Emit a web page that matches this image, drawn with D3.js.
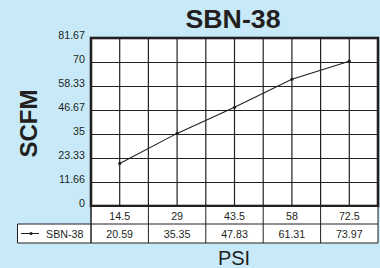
<!DOCTYPE html>
<html><head><meta charset="utf-8">
<script src="https://cdn.jsdelivr.net/npm/d3@7"></script>
<style>
html,body{margin:0;padding:0;background:#c8eaf8;}
svg{display:block;}
text{font-family:"Liberation Sans",Arial,Helvetica,sans-serif;fill:#231f20;}
</style></head>
<body>
<svg id="chart" width="380" height="268"></svg>
<script>
const categories = ["14.5", "29", "43.5", "58", "72.5"];
const seriesName = "SBN-38";
// values printed in the data table
const scfmLabels = [20.59, 35.35, 47.83, 61.31, 73.97];
// values where the points are actually drawn in the picture
const scfmPlotted = [20.7, 35.3, 48.0, 61.6, 70.4];
const yTickLabels = ["0", "11.66", "23.33", "35", "46.67", "58.33", "70", "81.67"];
const yTickValues = [0, 11.66, 23.33, 35, 46.67, 58.33, 70, 81.67];
const chartTitle = "SBN-38";
const yTitle = "SCFM";
const xTitle = "PSI";

(function () {
const svg = d3.select("#chart");
const W = 380, H = 268;
svg.append("rect").attr("width", W).attr("height", H).attr("fill", "#c8eaf8");

const pL = 91, pR = 378, pT = 38, pB = 206;
const x = d3.scaleBand().domain(categories).range([pL, pR]).padding(0);
const y = d3.scaleLinear().domain([0, 81.67]).range([pB, pT]);
const ink = "#231f20";

svg.append("rect").attr("x", pL).attr("y", pT).attr("width", pR - pL).attr("height", pB - pT).attr("fill", "#fff");

const gy = svg.append("g").attr("transform", `translate(${pL},0)`)
  .call(d3.axisLeft(y).tickValues(yTickValues).tickSize(-(pR - pL)).tickFormat(""));
gy.select(".domain").remove();
gy.selectAll("line").attr("stroke", ink).attr("stroke-width", 1.2);

const vlines = [];
categories.forEach(c => { vlines.push(x(c)); vlines.push(x(c) + x.bandwidth() / 2); });
svg.append("g").selectAll("line").data(vlines).join("line")
  .attr("x1", d => d).attr("x2", d => d).attr("y1", pT).attr("y2", pB)
  .attr("stroke", ink).attr("stroke-width", 1.2);

svg.append("g").selectAll("text").data(yTickValues).join("text")
  .attr("x", 85).attr("y", d => y(d) + 1)
  .attr("text-anchor", "end").attr("font-size", 10.7)
  .text((d, i) => yTickLabels[i]);

const pts = categories.map((c, i) => [x(c) + x.bandwidth() / 2, y(scfmPlotted[i])]);
svg.append("path").attr("d", d3.line()(pts)).attr("fill", "none").attr("stroke", ink).attr("stroke-width", 1.1);
svg.append("g").selectAll("circle").data(pts).join("circle")
  .attr("cx", d => d[0]).attr("cy", d => d[1]).attr("r", 1.6).attr("fill", ink);

svg.append("rect").attr("x", pL).attr("y", pT).attr("width", pR - pL).attr("height", pB - pT)
  .attr("fill", "none").attr("stroke", ink).attr("stroke-width", 2.6);

const row1Top = pB + 1, row1Bot = 224, row2Bot = 243, legLeft = 17.5;
const tbl = svg.append("g");
tbl.append("rect").attr("x", pL).attr("y", row1Top).attr("width", pR - pL).attr("height", row1Bot - row1Top).attr("fill", "#fff");
tbl.append("rect").attr("x", legLeft).attr("y", row1Bot).attr("width", pR - legLeft).attr("height", row2Bot - row1Bot).attr("fill", "#fff");
const tl = (x1, y1, x2, y2) => tbl.append("line").attr("x1", x1).attr("y1", y1).attr("x2", x2).attr("y2", y2).attr("stroke", ink).attr("stroke-width", 1);
tl(pL, row1Top, pL, row2Bot);
tl(pR, row1Top, pR, row2Bot);
tl(legLeft, row1Bot, pR, row1Bot);
tl(legLeft, row2Bot, pR, row2Bot);
tl(legLeft, row1Bot, legLeft, row2Bot);
categories.forEach(c => tl(x(c), row1Top, x(c), row2Bot));

tbl.selectAll("text.cat").data(categories).join("text").attr("class", "cat")
  .attr("x", d => x(d) + x.bandwidth() / 2).attr("y", (row1Top + row1Bot) / 2 + 4)
  .attr("text-anchor", "middle").attr("font-size", 10.7).text(d => d);
tbl.selectAll("text.val").data(scfmLabels).join("text").attr("class", "val")
  .attr("x", (d, i) => x(categories[i]) + x.bandwidth() / 2).attr("y", (row1Bot + row2Bot) / 2 + 4.5)
  .attr("text-anchor", "middle").attr("font-size", 10.7).text(d => d.toFixed(2));

const ly = (row1Bot + row2Bot) / 2;
tbl.append("line").attr("x1", 21).attr("x2", 39).attr("y1", ly).attr("y2", ly).attr("stroke", ink).attr("stroke-width", 1);
tbl.append("circle").attr("cx", 31).attr("cy", ly).attr("r", 1.6).attr("fill", ink);
tbl.append("text").attr("x", 46).attr("y", ly + 4).attr("font-size", 10.7).text(seriesName);

svg.append("text").attr("x", 233).attr("y", 28).attr("text-anchor", "middle")
  .attr("font-size", 25).attr("font-weight", "bold").attr("textLength", 95).attr("lengthAdjust", "spacingAndGlyphs")
  .text(chartTitle);
svg.append("text").attr("transform", `translate(37,123.5) rotate(-90)`).attr("text-anchor", "middle")
  .attr("font-size", 24).attr("font-weight", "bold").text(yTitle);
svg.append("text").attr("x", 234).attr("y", 265).attr("text-anchor", "middle")
  .attr("font-size", 20).text(xTitle);
})();
</script>
</body></html>
